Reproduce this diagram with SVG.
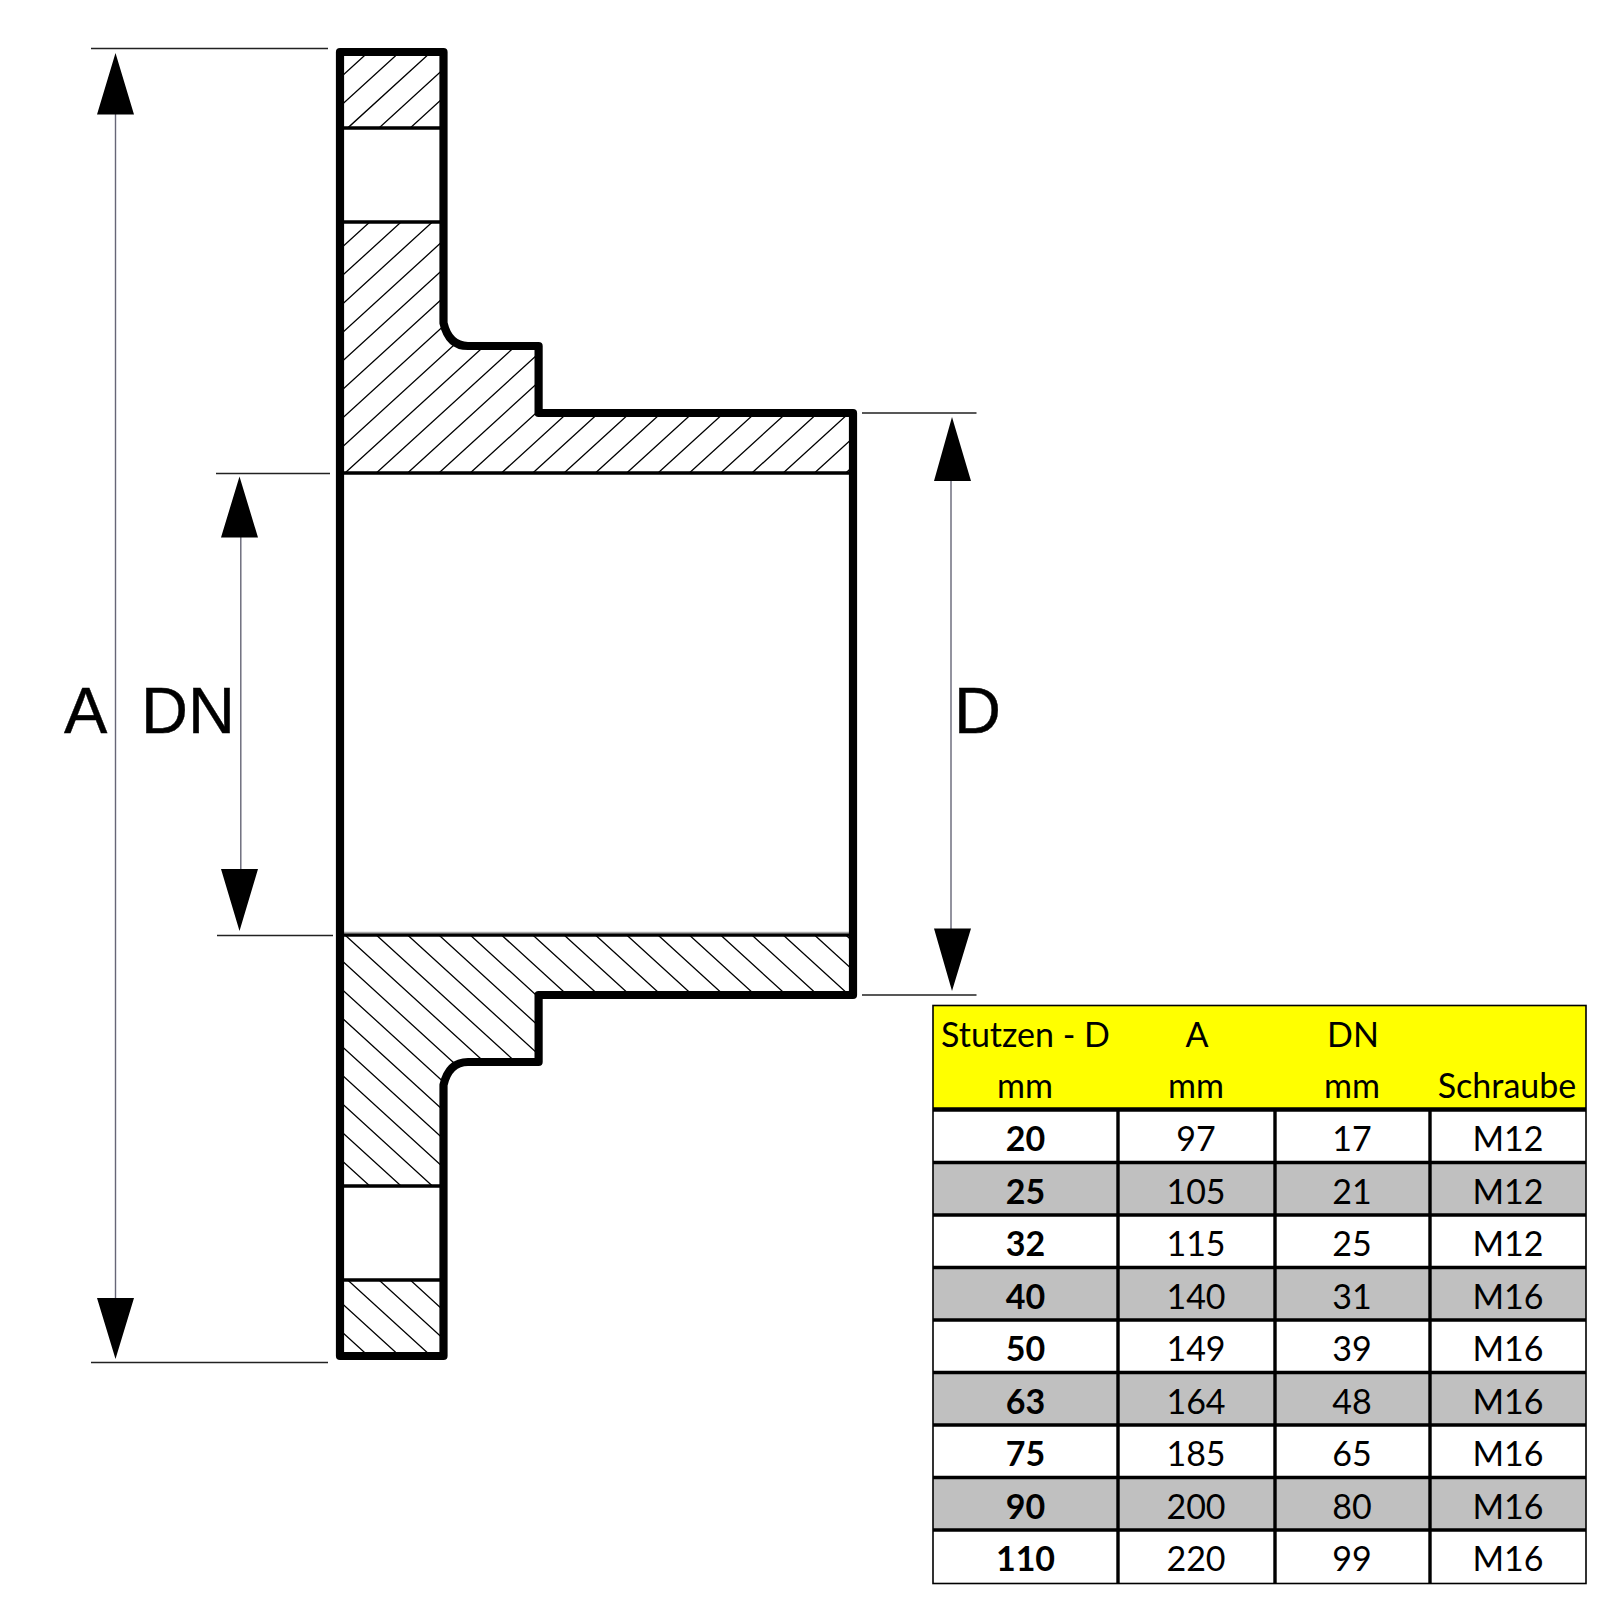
<svg xmlns="http://www.w3.org/2000/svg" xmlns:xlink="http://www.w3.org/1999/xlink" width="1600" height="1600" viewBox="0 0 1600 1600">
<style>
.o{fill:none;stroke:#000;stroke-width:8.2;stroke-linejoin:round;stroke-linecap:round}
.h{fill:none;stroke:#000;stroke-width:1.3}
.b{fill:none;stroke:#000;stroke-width:3.4}
.e{stroke:#222;stroke-width:1.3}
.d{stroke:#667;stroke-width:1.4}
.a{fill:#000}
.l{font-family:"Liberation Sans",Arial,sans-serif;font-size:65px;fill:#000;stroke:#000;stroke-width:.4}
.t{font-family:Lato,"Liberation Sans",sans-serif;font-size:34px;fill:#000;text-anchor:middle}
.f{font-weight:700}
.g{fill:#c0c0c0}
.y{fill:#ffff00}
.k{stroke:#000;stroke-width:3.4}
.n{stroke:#000;stroke-width:1.6;fill:none}
</style>
<defs>
<clipPath id="cl"><path d="M340 52H443.5V128H340ZM340 222H443.5V323C447 338 455 346 468 346H538.6V413H853V473H340Z"/></clipPath>
<g id="half">
<path class="h" clip-path="url(#cl)" d="M-124.5 473l463.8-423M-93.2 473l463.8-423M-61.9 473l463.8-423M-30.6 473l463.8-423M.7 473l463.8-423M32 473l463.8-423M63.3 473l463.8-423M94.6 473l463.8-423M125.9 473l463.8-423M157.2 473l463.8-423M188.5 473l463.8-423M219.8 473l463.8-423M251.1 473l463.8-423M282.4 473l463.8-423M313.7 473l463.8-423M345 473l463.8-423M376.3 473l463.8-423M407.6 473l463.8-423M438.9 473l463.8-423M470.2 473l463.8-423M501.5 473l463.8-423M532.8 473l463.8-423M564.1 473l463.8-423M595.4 473l463.8-423M626.7 473l463.8-423M658 473l463.8-423M689.3 473l463.8-423M720.6 473l463.8-423M751.9 473l463.8-423M783.2 473l463.8-423M814.5 473l463.8-423M845.8 473l463.8-423"/>
<path class="b" d="M340 128H443.5M340 222H443.5M340 473H853"/>
</g>
</defs>
<rect width="1600" height="1600" fill="#fff"/>
<g id="flange">
<use xlink:href="#half" href="#half"/>
<use xlink:href="#half" href="#half" transform="matrix(1 0 0 -1 0 1408)"/>
<path stroke="#aaa" stroke-width="1.500" d="M344 932.500H850"/>
<path class="o" d="M340 52H443.5V323C447 338 455 346 468 346H538.6V413H853V995H538.6V1062H468C455 1062 447 1070 443.5 1085V1356H340Z"/>
</g>
<g id="dimensions">
<path class="e" d="M91 48.5H328M91 1362.5H328M216 473.500H330M217 935.500H333M862 413H976.500M862 995H976.500" fill="none"/>
<path class="d" d="M115.500 110V1302M240.800 534V872M951 477V932" fill="none"/>
<path class="a" d="M115.500 53L134 114.500H97ZM115.500 1359L134 1298H97ZM239.500 476.500L258 537.500H221ZM239.500 931L258 869H221ZM952 417L971 481H934ZM952 991L971 928.500H934Z"/>
<text class="l" x="64" y="733">A</text>
<text class="l" x="141" y="733">DN</text>
<text class="l" x="954" y="733">D</text>
</g>
<g id="table">
<rect class="y" x="933" y="1005" width="653" height="103"/>
<rect class="g" x="933" y="1164" width="653" height="50"/>
<rect class="g" x="933" y="1269" width="653" height="50"/>
<rect class="g" x="933" y="1374" width="653" height="50"/>
<rect class="g" x="933" y="1479" width="653" height="50"/>
<rect class="n" x="933" y="1005.500" width="653" height="578"/>
<path stroke="#000" stroke-width="4.500" d="M933 1109.500H1586"/>
<path class="k" d="M933 1162.500H1586M933 1215H1586M933 1267.500H1586M933 1320H1586M933 1372.500H1586M933 1425H1586M933 1477.500H1586M933 1530H1586M1118 1108V1584M1275 1108V1584M1430 1108V1584"/>
<g class="t" transform="translate(0 1)">
<text x="1025.500" y="1046">Stutzen - D</text><text x="1197" y="1046">A</text><text x="1353" y="1046">DN</text>
<text x="1025" y="1097">mm</text><text x="1196" y="1097">mm</text><text x="1352" y="1097">mm</text><text x="1507" y="1097">Schraube</text>
<text class="f" x="1025.500" y="1150">20</text><text x="1196" y="1150">97</text><text x="1352" y="1150">17</text><text x="1508" y="1150">M12</text>
<text class="f" x="1025.500" y="1202.500">25</text><text x="1196" y="1202.500">105</text><text x="1352" y="1202.500">21</text><text x="1508" y="1202.500">M12</text>
<text class="f" x="1025.500" y="1255">32</text><text x="1196" y="1255">115</text><text x="1352" y="1255">25</text><text x="1508" y="1255">M12</text>
<text class="f" x="1025.500" y="1307.500">40</text><text x="1196" y="1307.500">140</text><text x="1352" y="1307.500">31</text><text x="1508" y="1307.500">M16</text>
<text class="f" x="1025.500" y="1360">50</text><text x="1196" y="1360">149</text><text x="1352" y="1360">39</text><text x="1508" y="1360">M16</text>
<text class="f" x="1025.500" y="1412.500">63</text><text x="1196" y="1412.500">164</text><text x="1352" y="1412.500">48</text><text x="1508" y="1412.500">M16</text>
<text class="f" x="1025.500" y="1465">75</text><text x="1196" y="1465">185</text><text x="1352" y="1465">65</text><text x="1508" y="1465">M16</text>
<text class="f" x="1025.500" y="1517.500">90</text><text x="1196" y="1517.500">200</text><text x="1352" y="1517.500">80</text><text x="1508" y="1517.500">M16</text>
<text class="f" x="1025.500" y="1570">110</text><text x="1196" y="1570">220</text><text x="1352" y="1570">99</text><text x="1508" y="1570">M16</text>
</g>
</g>
</svg>
